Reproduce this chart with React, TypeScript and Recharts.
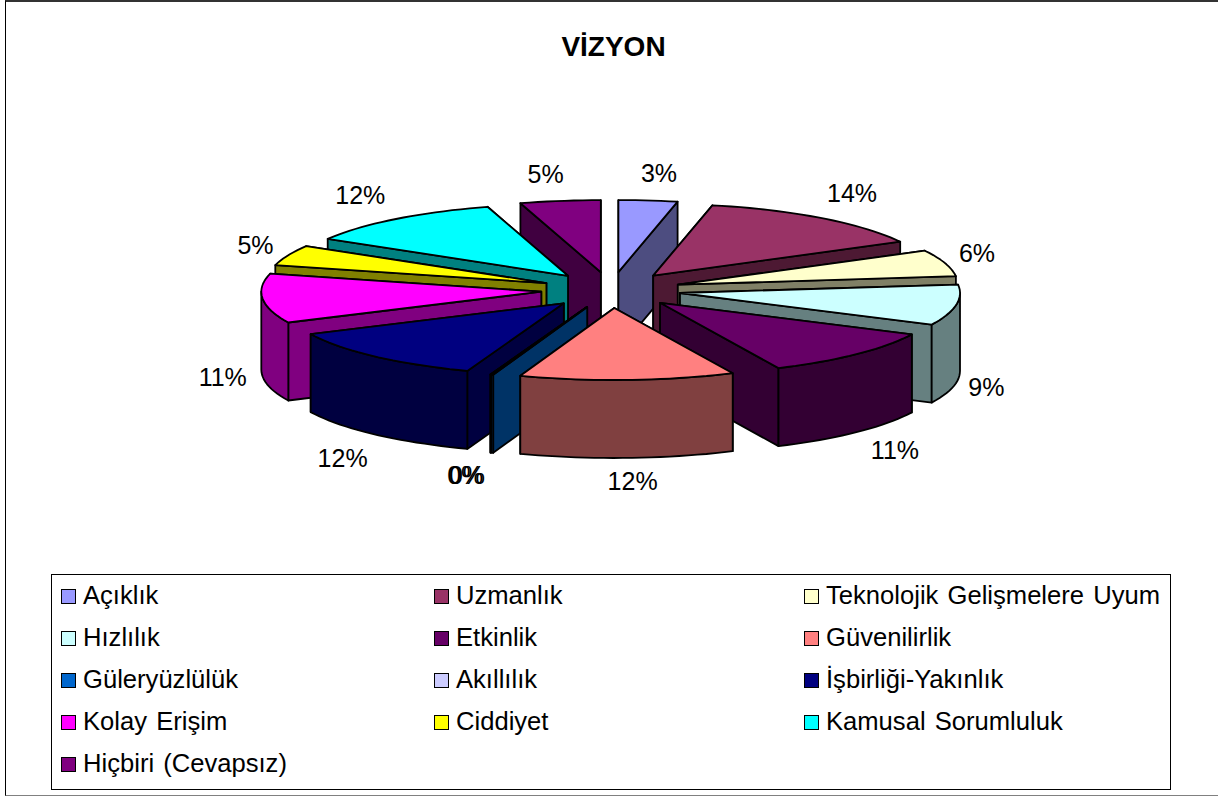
import React from "react";
import { PieChart, Pie, Legend } from "recharts";

const categories = [
  "Açıklık",
  "Uzmanlık",
  "Teknolojik Gelişmelere Uyum",
  "Hızlılık",
  "Etkinlik",
  "Güvenilirlik",
  "Güleryüzlülük",
  "Akıllılık",
  "İşbirliği-Yakınlık",
  "Kolay Erişim",
  "Ciddiyet",
  "Kamusal Sorumluluk",
  "Hiçbiri (Cevapsız)",
];
const shares = [3.39, 13.81, 5.94, 9.08, 10.83, 12.4, 0.12, 0.03, 12.36, 11.06, 4.56, 11.78, 4.64];
const topColors = ["#9999FF", "#993366", "#FFFFCC", "#CCFFFF", "#660066", "#FF8080", "#0066CC", "#CCCCFF", "#000080", "#FF00FF", "#FFFF00", "#00FFFF", "#800080"];
const sideColors = ["#4D4D80", "#4D1933", "#808066", "#668080", "#330033", "#804040", "#003366", "#666680", "#000040", "#800080", "#808000", "#008080", "#400040"];
// back to front, so nearer slices cover the walls of the ones behind them
const paintOrder = [0, 12, 1, 11, 2, 10, 3, 9, 4, 8, 7, 6, 5];
// small hand nudges for the percent labels, the placement is not quite regular
const labelNudgeX = [6, 3, -11, -14, 7, 3, -10, -10, -2, 5, 9, -8, -8];
const labelNudgeY = [0, -3, -2, -1, -2, -5, -4, -4, 3, -2, 0, -2, 1];

const pieData = categories.map((name, i) => ({ name, value: shares[i] }));

const CX = 611;
const CY = 290;
const RX = 280;
const RY = 72;
const DEPTH = 78;
const EXPLODE = 0.25;
const FONT = "'Liberation Sans', Arial, sans-serif";

const rad = (d: number) => (d * Math.PI) / 180;

// theta is clockwise from 12 o'clock; recharts angles go counter-clockwise from 3 o'clock
const Slice = (props: any) => {
  const a0 = 90 - props.startAngle;
  const a1 = 90 - props.endAngle;
  const mid = (a0 + a1) / 2;
  const ax = CX + EXPLODE * RX * Math.sin(rad(mid));
  const ay = CY - EXPLODE * RY * Math.cos(rad(mid));
  const pt = (t: number): [number, number] => [
    ax + RX * Math.sin(rad(t)),
    ay - RY * Math.cos(rad(t)),
  ];
  const arc = (from: number, to: number) => {
    const pts = [];
    const n = Math.max(1, Math.ceil(Math.abs(to - from) / 2));
    for (let k = 0; k <= n; k++) pts.push(pt(from + ((to - from) * k) / n));
    return pts;
  };
  const toPath = (pts: [number, number][]) =>
    "M" + pts.map((p) => p[0].toFixed(1) + "," + p[1].toFixed(1)).join("L") + "Z";
  const down = (pts: [number, number][]) =>
    pts.map((p) => [p[0], p[1] + DEPTH] as [number, number]);

  const wall = (t: number) => {
    const o = pt(t);
    return { y: o[1], d: toPath([[ax, ay], o, [o[0], o[1] + DEPTH], [ax, ay + DEPTH]]) };
  };
  const walls = [wall(a0), wall(a1)].sort((p, q) => p.y - q.y);

  const f0 = Math.max(a0, 90);
  const f1 = Math.min(a1, 270);
  const side = sideColors[props.index];
  const stroke = { stroke: "#000", strokeWidth: 1.8, strokeLinejoin: "round" as const };

  return (
    <g>
      {walls.map((w, i) => (
        <path key={i} d={w.d} fill={side} {...stroke} />
      ))}
      {f1 > f0 && (
        <path
          d={toPath([...arc(f0, f1), ...down(arc(f0, f1)).reverse()])}
          fill={side}
          {...stroke}
        />
      )}
      <path d={toPath([[ax, ay], ...arc(a0, a1)])} fill={topColors[props.index]} {...stroke} />
    </g>
  );
};

const renderLabel = (props: any) => {
  const t = 90 - props.midAngle;
  const c = Math.cos(rad(t));
  const x = CX + 395 * Math.sin(rad(t)) + labelNudgeX[props.index];
  const y = CY - 118 * c + (c < 0 ? DEPTH : 0) + labelNudgeY[props.index];
  return (
    <text x={x} y={y} textAnchor="middle" dominantBaseline="central" fontFamily={FONT} fontSize={25} fill="#000">
      {Math.round(props.percent * 100) + "%"}
    </text>
  );
};

const LegendBox = () => {
  const colX = [61, 434, 804];
  return (
    <div
      style={{
        position: "absolute",
        left: 51,
        top: 574,
        width: 1118,
        height: 214,
        border: "1px solid #000",
        boxSizing: "content-box",
      }}
    >
      {categories.map((name, i) => {
        const col = i < 12 ? i % 3 : 0;
        const row = Math.floor(i / 3);
        const y = 20 + row * 42;
        return (
          <React.Fragment key={name}>
            <div
              style={{
                position: "absolute",
                left: colX[col] - 52,
                top: y - 6,
                width: 13,
                height: 13,
                background: topColors[i],
                border: "1.5px solid #000",
              }}
            />
            <div
              style={{
                position: "absolute",
                left: colX[col] - 52 + 22,
                top: y - 15,
                height: 30,
                lineHeight: "30px",
                fontFamily: FONT,
                fontSize: 25.6,
                wordSpacing: 2,
                whiteSpace: "nowrap",
                color: "#000",
              }}
            >
              {name}
            </div>
          </React.Fragment>
        );
      })}
    </div>
  );
};

export default function App() {
  return (
    <div style={{ position: "absolute", left: 0, top: 0, width: 1218, height: 796, background: "#fff", overflow: "hidden" }}>
      <div style={{ position: "absolute", left: 5, top: 0, width: 1213, height: 793, borderTop: "2px solid #333", borderLeft: "1.5px solid #000", borderBottom: "1px solid #808080" }} />
      <PieChart width={1218} height={796} style={{ position: "absolute", left: 0, top: 0 }}>
        <text x={613.5} y={46} textAnchor="middle" dominantBaseline="central" fontFamily={FONT} fontSize={28} fontWeight="bold" fill="#000">
          VİZYON
        </text>
        {paintOrder.map((idx, order) => (
          <Pie
            key={idx}
            data={pieData}
            dataKey="value"
            nameKey="name"
            cx={CX}
            cy={CY}
            outerRadius={RX}
            startAngle={90}
            endAngle={-270}
            stroke="none"
            isAnimationActive={false}
            legendType="none"
            label={order === paintOrder.length - 1 ? renderLabel : false}
            labelLine={false}
            shape={(p: any) => (p.index === idx ? <Slice {...p} /> : <g />)}
          />
        ))}
        <Legend content={() => <LegendBox />} wrapperStyle={{ left: 0, top: 0, width: 1218, height: 796, bottom: "auto", pointerEvents: "none" }} />
      </PieChart>
    </div>
  );
}
